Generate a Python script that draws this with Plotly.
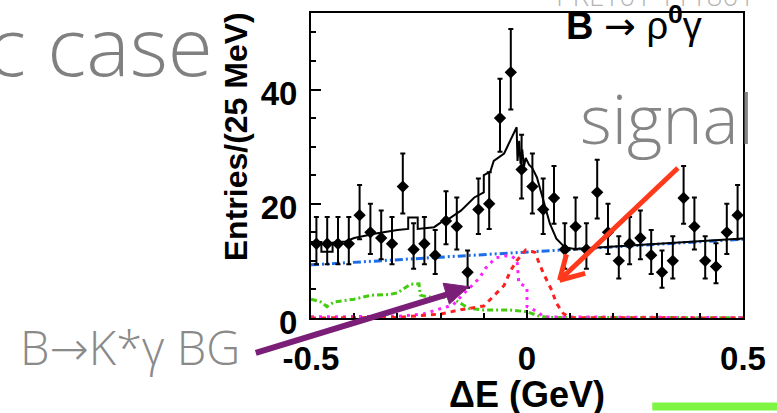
import plotly.graph_objects as go

# ---------------- data ----------------
bin_centers = [-0.4875, -0.4625, -0.4375, -0.4125, -0.3875, -0.3625, -0.3375, -0.3125,
               -0.2875, -0.2625, -0.2375, -0.2125, -0.1875, -0.1625, -0.1375, -0.1125,
               -0.0875, -0.0625, -0.0375, -0.0125, 0.0125, 0.0375, 0.0625, 0.0875,
               0.1125, 0.1375, 0.1625, 0.1875, 0.2125, 0.2375, 0.2625, 0.2875,
               0.3125, 0.3375, 0.3625, 0.3875, 0.4125, 0.4375, 0.4625, 0.4875]
counts = [13, 13, 13, 13, 18, 15, 14, 13, 23, 12, 13, 11, 17, 16, 8, 19, 20, 35, 43, 26,
          23, 19, 21, 12, 16, 12, 22, 15, 10, 13, 14, 11, 8, 10, 21, 16, 10, 9, 15, 18]
err_up = [4.7, 4.7, 4.7, 4.7, 5.3, 5.0, 4.8, 4.7, 5.8, 4.6, 4.7, 4.4, 5.2, 5.1, 3.8, 5.4,
          5.5, 6.9, 7.6, 6.1, 5.8, 5.4, 5.6, 4.6, 5.1, 4.6, 5.7, 5.0, 4.3, 4.7, 4.8, 4.4,
          3.8, 4.3, 5.6, 5.1, 4.3, 4.1, 5.0, 5.3]
err_dn = [3.6, 3.6, 3.6, 3.6, 4.2, 3.8, 3.7, 3.6, 4.7, 3.4, 3.6, 3.3, 4.1, 4.0, 2.7, 4.3,
          4.4, 5.9, 6.5, 5.1, 4.7, 4.3, 4.5, 3.4, 4.0, 3.4, 4.6, 3.8, 3.1, 3.6, 3.7, 3.3,
          2.7, 3.1, 4.5, 4.0, 3.1, 2.9, 3.8, 4.2]

# total fit (black solid)
fit_x = [-0.500, -0.476, -0.476, -0.450, -0.450, -0.420, -0.400, -0.350, -0.300, -0.275,
         -0.275, -0.253, -0.253, -0.215, -0.200, -0.180, -0.153, -0.122, -0.100, -0.100,
         -0.085, -0.077, -0.053, -0.024, -0.022, -0.018, -0.015, -0.011, -0.007, -0.003,
         0.005, 0.012, 0.023, 0.038, 0.053, 0.068, 0.087, 0.110, 0.200, 0.350, 0.500]
fit_y = [13.3, 13.3, 11.6, 11.6, 13.2, 13.4, 14.0, 14.8, 15.4, 15.6,
         17.6, 17.6, 15.6, 15.9, 16.7, 17.4, 18.8, 21.1, 22.0, 25.0,
         25.6, 27.5, 28.8, 33.4, 27.5, 31.0, 27.0, 29.5, 26.5, 28.0,
         26.8, 26.3, 24.6, 20.5, 16.5, 13.9, 12.4, 12.1, 12.5, 13.2, 13.9]

# continuum background (blue dash-dot)
cont_x = [-0.5, 0.5]
cont_y = [9.3, 13.8]

# other B background (green dash-dot)
bbkg_x = [-0.500, -0.477, -0.463, -0.447, -0.400, -0.360, -0.320, -0.300, -0.270, -0.250,
          -0.247, -0.230, -0.190, -0.165, -0.135, -0.100, -0.040, 0.000, 0.025, 0.050, 0.500]
bbkg_y = [3.3, 2.8, 2.0, 2.8, 3.3, 4.0, 4.1, 4.4, 5.9, 6.0,
          4.0, 3.7, 3.6, 3.1, 1.7, 1.4, 1.4, 1.1, 0.4, 0.1, 0.05]

# B -> K* gamma background (magenta dotted)
kst_x = [-0.500, -0.300, -0.240, -0.210, -0.171, -0.142, -0.110, -0.096, -0.073, -0.050,
         -0.035, -0.023, -0.019, 0.000, 0.000, 0.010, 0.040, 0.500]
kst_y = [0.2, 0.3, 0.7, 1.4, 2.3, 4.6, 7.0, 8.7, 10.5, 10.9,
         10.8, 10.1, 6.1, 5.4, 2.0, 1.7, 0.2, 0.05]

# signal (red dashed)
sig_x = [-0.500, -0.300, -0.200, -0.150, -0.100, -0.075, -0.053, -0.038, -0.023, -0.003,
         0.018, 0.038, 0.057, 0.068, 0.084, 0.100, 0.500]
sig_y = [0.0, 0.1, 0.7, 1.5, 2.1, 4.0, 5.7, 8.3, 10.1, 11.9,
         11.5, 7.8, 4.9, 2.6, 0.8, 0.05, 0.0]

x_tickvals = [-0.5, 0.0, 0.5]
x_ticktext = ["-0.5", "0", "0.5"]
y_tickvals = [0, 20, 40]
y_ticktext = ["0", "20", "40"]

# ---------------- figure ----------------
W, H = 777, 413
L, R, T, B = 311, 749, 11, 318


def fx(p):
    return (p - L) / (R - L)


def fy(p):
    return (B - p) / (B - T)


fig = go.Figure()
fig.add_trace(go.Scatter(x=cont_x, y=cont_y, mode="lines",
                         line=dict(color="#1c6ee8", width=3, dash="8px,3px,2px,3px,2px,3px")))
fig.add_trace(go.Scatter(x=bbkg_x, y=bbkg_y, mode="lines",
                         line=dict(color="#44cc11", width=3, dash="6px,3px,2px,3px")))
fig.add_trace(go.Scatter(x=kst_x, y=kst_y, mode="lines",
                         line=dict(color="#ff22ff", width=3, dash="3px,5px")))
fig.add_trace(go.Scatter(x=sig_x, y=sig_y, mode="lines",
                         line=dict(color="#ff2020", width=3, dash="5px,5px")))
fig.add_trace(go.Scatter(x=fit_x, y=fit_y, mode="lines",
                         line=dict(color="black", width=2)))
fig.add_trace(go.Scatter(x=bin_centers, y=counts, mode="markers",
                         marker=dict(symbol="diamond", size=9.5, color="black"),
                         error_y=dict(type="data", array=err_up, arrayminus=err_dn,
                                      color="black", thickness=2, width=2.5)))

tickfont = dict(family="Liberation Sans, Arial, sans-serif", size=33, color="black", weight="bold")

fig.update_layout(
    width=W, height=H,
    margin=dict(l=L, r=W - R, t=T, b=H - B, pad=0),
    paper_bgcolor="white", plot_bgcolor="white",
    showlegend=False,
    xaxis=dict(range=[-0.5, 0.5], showgrid=False, zeroline=False,
               showline=True, linecolor="black", linewidth=2, mirror=True,
               ticks="inside", ticklen=8, tickwidth=2, tickcolor="black",
               tickmode="array", tickvals=x_tickvals, ticktext=x_ticktext,
               tickfont=tickfont, ticklabelstandoff=10,
               minor=dict(tickmode="linear", tick0=-0.5, dtick=0.1, ticks="inside",
                          ticklen=5, tickwidth=2, tickcolor="black", showgrid=False)),
    yaxis=dict(range=[0, (B - T) / 5.75], showgrid=False, zeroline=False,
               showline=True, linecolor="black", linewidth=2, mirror=True,
               ticks="inside", ticklen=10, tickwidth=2, tickcolor="black",
               tickmode="array", tickvals=y_tickvals, ticktext=y_ticktext,
               tickfont=tickfont, ticklabelstandoff=5, ticklabelshift=4,
               minor=dict(tickmode="linear", tick0=0, dtick=5, ticks="inside",
                          ticklen=5, tickwidth=2, tickcolor="black", showgrid=False)),
)

rootfont = "Liberation Sans, Arial, sans-serif"
slidefont = "Open Sans, DejaVu Sans, sans-serif"


def note(text, px, py, font, **kw):
    d = dict(text=text, x=fx(px), y=fy(py), xref="paper", yref="paper",
             xanchor="center", yanchor="middle", showarrow=False, font=font)
    d.update(kw)
    return d


ann = [
    note("Entries/(25 MeV)", 235, 136,
         dict(family=rootfont, size=32, color="black", weight="bold"), textangle=-90),
    note("ΔE (GeV)", 530, 395, dict(family=rootfont, size=36, color="black", weight="bold")),
    note("<b>B</b> <span style=\"font-family:DejaVu Sans\">→</span> ρ<sup><b>0</b></sup>γ", 638, 22,
         dict(family=rootfont, size=38, color="black")),
    note("c case", 214, 42, dict(family=slidefont, size=82, color="#808080", weight=300),
         xanchor="right"),
    note("signal", 672, 116, dict(family=slidefont, size=68, color="#858585", weight=300)),
    note("B→K*γ BG", 127, 347, dict(family=slidefont, size=47, color="#8a8a8a", weight=300)),
    note("PRL101 111801", 660, -7, dict(family=slidefont, size=28, color="#b4b4b4", weight=300)),
]
fig.update_layout(annotations=ann)

red = "#ff3a1c"
purple = "#7a1e78"
shapes = [
    dict(type="line", xref="paper", yref="paper", x0=fx(683), y0=fy(167), x1=fx(564), y1=fy(279),
         line=dict(color=red, width=5)),
    dict(type="line", xref="paper", yref="paper", x0=fx(563), y0=fy(280), x1=fx(589), y1=fy(273),
         line=dict(color=red, width=5)),
    dict(type="line", xref="paper", yref="paper", x0=fx(563), y0=fy(280), x1=fx(570), y1=fy(254),
         line=dict(color=red, width=5)),
    dict(type="line", xref="paper", yref="paper", x0=fx(255), y0=fy(353), x1=fx(450), y1=fy(294),
         line=dict(color=purple, width=6)),
    dict(type="path", xref="paper", yref="paper",
         path="M %f,%f L %f,%f L %f,%f Z" % (fx(471), fy(286.5), fx(451.3), fy(304), fx(444.9), fy(283)),
         fillcolor=purple, line=dict(color=purple, width=1)),
    dict(type="rect", xref="paper", yref="paper", x0=fx(657), y0=fy(403), x1=fx(790), y1=fy(411),
         fillcolor="#7ef542", line=dict(width=0)),
]
fig.update_layout(shapes=shapes)

fig.write_html("out.html")
